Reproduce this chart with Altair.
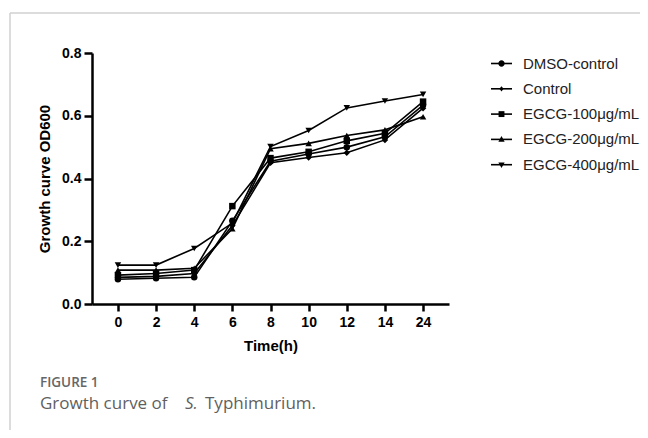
import altair as alt
import pandas as pd

times = ["0", "2", "4", "6", "8", "10", "12", "14", "24"]
series_names = ["DMSO-control", "Control", "EGCG-100μg/mL", "EGCG-200μg/mL", "EGCG-400μg/mL"]
dmso = [0.079, 0.082, 0.085, 0.265, 0.455, 0.478, 0.500, 0.533, 0.634]
control = [0.085, 0.088, 0.097, 0.250, 0.450, 0.467, 0.482, 0.523, 0.624]
egcg100 = [0.092, 0.097, 0.108, 0.312, 0.465, 0.485, 0.520, 0.544, 0.645]
egcg200 = [0.108, 0.108, 0.114, 0.240, 0.495, 0.512, 0.537, 0.555, 0.597]
egcg400 = [0.124, 0.124, 0.177, 0.258, 0.502, 0.553, 0.625, 0.647, 0.668]

caption_label = ["FIGURE 1"]
caption_parts = ["Growth curve of", "S.", "Typhimurium."]

marker_shapes = ["circle", "diamond", "square", "triangle-up", "triangle-down"]
legend_marker_paths = [
    "M-0.3,0A0.3,0.3,0,1,1,0.3,0A0.3,0.3,0,1,1,-0.3,0Z",
    "M0,-0.25L0.2,0L0,0.25L-0.2,0Z",
    "M-0.28,-0.28H0.28V0.28H-0.28Z",
    "M0,-0.32L0.3,0.22H-0.3Z",
    "M0,0.32L0.3,-0.22H-0.3Z",
]
legend_line_path = ["M-1,0H1"] * 5

rows = []
for name, vals in zip(series_names, [dmso, control, egcg100, egcg200, egcg400]):
    for t, v in zip(times, vals):
        rows.append({"time": t, "od": v, "series": name})
df = pd.DataFrame(rows)
one = pd.DataFrame({"k": [0]})

x_enc = alt.X("time:O", sort=times,
              scale=alt.Scale(type="point", padding=0.68),
              axis=alt.Axis(title="Time(h)", labelAngle=0))
y_enc = alt.Y("od:Q", scale=alt.Scale(domain=[0, 0.8]),
              axis=alt.Axis(title="Growth curve OD600", values=[0, 0.2, 0.4, 0.6, 0.8], format=".1f"))

base = alt.Chart(df)

lines = base.mark_line(color="black", strokeWidth=1.6).encode(
    x=x_enc, y=y_enc, detail="series:N")

points = base.mark_point(filled=True, color="black", opacity=1, size=42).encode(
    x=x_enc, y=y_enc,
    shape=alt.Shape("series:N", sort=series_names,
                    scale=alt.Scale(domain=series_names, range=marker_shapes), legend=None))

leg_common = dict(title=None, orient="none", legendX=398, legendY=-1,
                  symbolSize=441, labelFont="Liberation Sans",
                  labelFontSize=15, labelOffset=10,
                  rowPadding=5.3, padding=0, labelLimit=300, symbolOpacity=1)

legend_markers = base.mark_point(filled=True, color="black", opacity=0, size=441).encode(
    x=x_enc, y=y_enc,
    shape=alt.Shape("series2:N", sort=series_names,
                    scale=alt.Scale(domain=series_names, range=legend_marker_paths),
                    legend=alt.Legend(labelColor="#222", symbolFillColor="black", **leg_common)))
legend_markers = legend_markers.transform_calculate(series2="datum.series")

legend_lines = base.mark_point(filled=False, color="black", opacity=0, size=441, strokeWidth=1.6).encode(
    x=x_enc, y=y_enc,
    shape=alt.Shape("series3:N", sort=series_names,
                    scale=alt.Scale(domain=series_names, range=legend_line_path),
                    legend=alt.Legend(labelOpacity=0, symbolStrokeColor="black",
                                      symbolStrokeWidth=1.6, **leg_common)))
legend_lines = legend_lines.transform_calculate(series3="datum.series")

frame_left = alt.Chart(one).mark_rule(color="#d0d0d0", strokeWidth=1.5).encode(
    x=alt.value(-82), y=alt.value(-40), y2=alt.value(390))
frame_top = alt.Chart(one).mark_rule(color="#d0d0d0", strokeWidth=1.5).encode(
    x=alt.value(-82), x2=alt.value(560), y=alt.value(-40))

cap1 = alt.Chart(one).mark_text(align="left", baseline="middle", font="Open Sans",
                                fontSize=13.5, fontWeight=600, color="#666").encode(
    x=alt.value(-52), y=alt.value(330), text=alt.value(caption_label[0]))
cap2 = alt.Chart(one).mark_text(align="left", baseline="middle", font="Open Sans",
                                fontSize=17, color="#5f5f5f").encode(
    x=alt.value(-52), y=alt.value(351), text=alt.value(caption_parts[0]))
cap3 = alt.Chart(one).mark_text(align="left", baseline="middle", font="Open Sans",
                                fontSize=17, fontStyle="italic", color="#5f5f5f").encode(
    x=alt.value(93), y=alt.value(351), text=alt.value(caption_parts[1]))
cap4 = alt.Chart(one).mark_text(align="left", baseline="middle", font="Open Sans",
                                fontSize=17, color="#5f5f5f").encode(
    x=alt.value(113), y=alt.value(351), text=alt.value(caption_parts[2]))

chart = alt.layer(lines, points, legend_lines, legend_markers, frame_left, frame_top,
                  cap1, cap2, cap3, cap4).resolve_scale(
    shape="independent"
).properties(
    width=357, height=251,
    autosize=alt.AutoSizeParams(type="none"),
    padding={"left": 84, "top": 45, "right": 191, "bottom": 126},
).configure_view(stroke=None).configure_axis(
    domainColor="black", domainWidth=2.5, tickColor="black", tickWidth=2.5,
    tickSize=8, labelFont="Liberation Sans", labelFontSize=14, labelFontWeight="bold",
    labelColor="black", titleFont="Liberation Sans", titleFontSize=15,
    titleFontWeight="bold", titleColor="black", grid=False, labelPadding=3,
).configure_axisY(titlePadding=9).configure_axisX(titlePadding=9, tickSize=7, labelPadding=4)

chart.save("out.html", embed_options={"renderer": "svg", "actions": False})
